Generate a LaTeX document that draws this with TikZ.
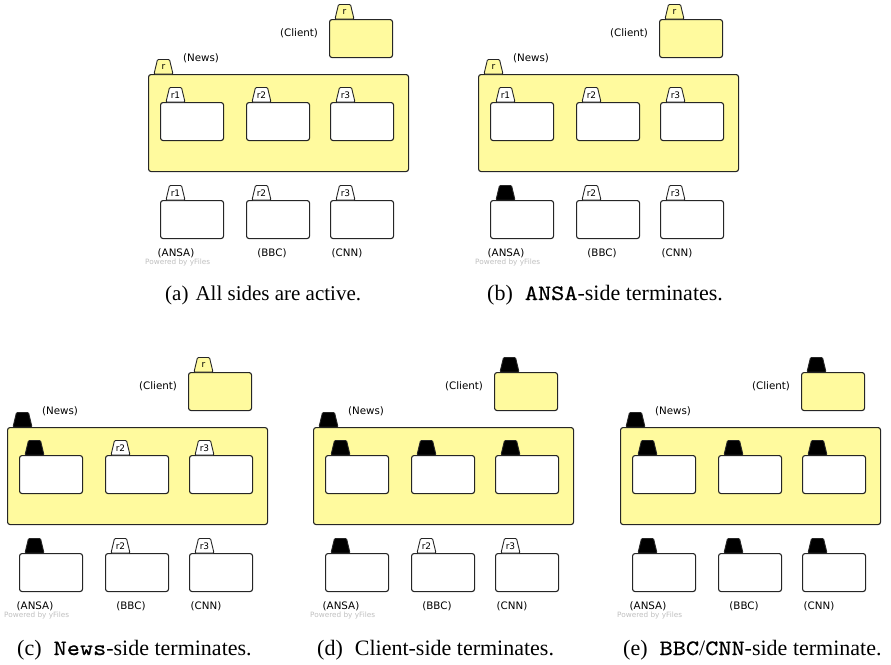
\documentclass[tikz,border=0pt]{standalone}
\usepackage{fontspec}
\setmainfont{Liberation Serif}
\setmonofont{lmmono10-regular.otf}[FakeStretch=1.14, FakeBold=0.5]
\newfontfamily\lblfont{DejaVu Sans}
\usetikzlibrary{calc}
\definecolor{boxyellow}{HTML}{FFFA9E}
\tikzset{
  boxline/.style={draw=black!85, line width=1.1pt, rounded corners=2.5pt},
  ybox/.style={boxline, fill=boxyellow, inner sep=0pt},
  wbox/.style={boxline, fill=white, inner sep=0pt},
  smallbox/.style={wbox, minimum width=63pt, minimum height=38pt, anchor=north west},
  tabline/.style={draw=black!85, line width=0.9pt, rounded corners=1pt},
  tablbl/.style={font=\lblfont\fontsize{9}{9}\selectfont, inner sep=0pt},
  lbltext/.style={font=\lblfont\fontsize{10.3}{11}\selectfont, inner sep=0pt},
  wmtext/.style={font=\lblfont\fontsize{7.3}{8}\selectfont, text=black!25, inner sep=0pt, anchor=west},
  captext/.style={font=\fontsize{22}{26}\selectfont, inner sep=0pt, anchor=base west},
}
% open tab: box, label, fill
\newcommand\otab[3]{%
  \draw[tabline, fill=#3] ($(#1.north west)+(6,0)$) -- ++(3.5,-14.5) -- ++(12,0) -- ++(3.5,14.5) -- cycle;
  \node[tablbl] (#1-t) at ($(#1.north west)+(15.5,-7)$) {#2};}
% closed (black) tab: box
\newcommand\ctab[1]{%
  \draw[tabline, fill=black] ($(#1.north west)+(6,0)$) -- ++(3.5,-14.5) -- ++(12,0) -- ++(3.5,14.5) -- cycle;
  \coordinate (#1-t) at ($(#1.north west)+(15.5,-7)$);}
% the boxes and labels of one panel
\newcommand\panelboxes[1]{%
  \node[ybox, minimum width=63pt, minimum height=38pt, anchor=north west] (#1cl) at (329,19) {};
  \node[lbltext] (#1cl-l) at (299,33) {(Client)};
  \node[ybox, minimum width=260pt, minimum height=97pt, anchor=north west] (#1nw) at (148,74) {};
  \node[lbltext] (#1nw-l) at (201,58) {(News)};
  \node[smallbox] (#1i1) at (160,102) {};
  \node[smallbox] (#1i2) at (246,102) {};
  \node[smallbox] (#1i3) at (330,102) {};
  \node[smallbox] (#1b1) at (160,200) {};
  \node[smallbox] (#1b2) at (246,200) {};
  \node[smallbox] (#1b3) at (330,200) {};
  \node[lbltext] (#1b1-l) at (176,253) {(ANSA)};
  \node[lbltext] (#1b2-l) at (272,253) {(BBC)};
  \node[lbltext] (#1b3-l) at (347,253) {(CNN)};
  \node[wmtext] (#1wm) at (145,262.5) {Powered by yFiles};}
\begin{document}
\begin{tikzpicture}[x=1pt, y=-1pt]
\useasboundingbox (0,0) rectangle (891,664);
% (a)
\begin{scope}
  \panelboxes{a}
  \otab{acl}{r}{boxyellow} \otab{anw}{r}{boxyellow}
  \otab{ai1}{r1}{white} \otab{ai2}{r2}{white} \otab{ai3}{r3}{white}
  \otab{ab1}{r1}{white} \otab{ab2}{r2}{white} \otab{ab3}{r3}{white}
\end{scope}
% (b)
\begin{scope}[shift={(330,0)}]
  \panelboxes{b}
  \otab{bcl}{r}{boxyellow} \otab{bnw}{r}{boxyellow}
  \otab{bi1}{r1}{white} \otab{bi2}{r2}{white} \otab{bi3}{r3}{white}
  \ctab{bb1} \otab{bb2}{r2}{white} \otab{bb3}{r3}{white}
\end{scope}
% (c)
\begin{scope}[shift={(-141,353)}]
  \panelboxes{c}
  \otab{ccl}{r}{boxyellow} \ctab{cnw}
  \ctab{ci1} \otab{ci2}{r2}{white} \otab{ci3}{r3}{white}
  \ctab{cb1} \otab{cb2}{r2}{white} \otab{cb3}{r3}{white}
\end{scope}
% (d)
\begin{scope}[shift={(165,353)}]
  \panelboxes{d}
  \ctab{dcl} \ctab{dnw}
  \ctab{di1} \ctab{di2} \ctab{di3}
  \ctab{db1} \otab{db2}{r2}{white} \otab{db3}{r3}{white}
\end{scope}
% (e)
\begin{scope}[shift={(472,353)}]
  \panelboxes{e}
  \ctab{ecl} \ctab{enw}
  \ctab{ei1} \ctab{ei2} \ctab{ei3}
  \ctab{eb1} \ctab{eb2} \ctab{eb3}
\end{scope}
% captions
\node[captext, font=\fontsize{21}{25}\selectfont] (capa) at (165,300) {(a)\hspace{7pt}All sides are active.};
\node[captext] (capb) at (487,300) {(b)\hspace{12pt}\texttt{ANSA}-side terminates.};
\node[captext] (capc) at (17,655) {(c)\hspace{12pt}\texttt{News}-side terminates.};
\node[captext] (capd) at (317,655) {(d)\hspace{12pt}Client-side terminates.};
\node[captext] (cape) at (623,655) {(e)\hspace{12pt}\texttt{BBC}/\texttt{CNN}-side terminate.};
\end{tikzpicture}
\end{document}
